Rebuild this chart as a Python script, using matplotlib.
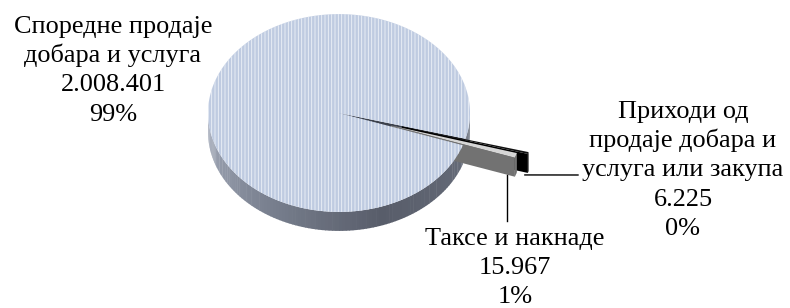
import numpy as np
import matplotlib
matplotlib.use("Agg")
import matplotlib.pyplot as plt
from matplotlib.patches import Polygon
from matplotlib.colors import LinearSegmentedColormap

plt.rcParams['font.family'] = ['Liberation Serif', 'DejaVu Serif']
plt.rcParams['hatch.linewidth'] = 0.6

# -------------------------
# DATA
# -------------------------
nazivi = ["Споредне продаје\nдобара и услуга",
          "Приходи од\nпродаје добара и\nуслуга или закупа",
          "Таксе и накнаде"]
iznosi = [2008401, 6225, 15967]

# -------------------------
# LAYOUT (pixels)
# -------------------------
CX, CY = 339, 113      # centre of the top face
S = 131                # radius in px
KY = 0.755             # tilt (vertical squash)
D = 19                 # thickness in px
GAP_TOP = -15.1        # where the big slice ends (degrees)
explode = [0.0, 0.50, 0.417]

boje_vrh = ["#bfcbe1", "#111111", "#d6d6d6"]
boje_zid = ["#3c414c", "#000000", "#727272"]

fig = plt.figure(figsize=(7.9, 3.08), dpi=100)
ax = fig.add_axes([0, 0, 1, 1])
ax.set_xlim(0, 790)
ax.set_ylim(308, 0)
ax.axis("off")


def proj(px, py, dz=0.0):
    return (CX + S * px, CY - S * KY * py + dz)


def u(t):
    r = np.radians(t)
    return np.cos(r), np.sin(r)


def luk(c, t1, t2, n=200):
    ts = np.linspace(t1, t2, n)
    return [proj(c[0] + np.cos(np.radians(t)), c[1] + np.sin(np.radians(t))) for t in ts]


ukupno = sum(iznosi)
uglovi = [360.0 * v / ukupno for v in iznosi]

# male kriske idu u smjeru kazaljke od procjepa: crna pa siva
granice = []
t_hi = GAP_TOP
for i in [1, 2]:
    granice.append((i, t_hi - uglovi[i], t_hi))
    t_hi -= uglovi[i]
gap_bottom = t_hi
big_lo, big_hi = GAP_TOP, gap_bottom + 360

# -------------------------
# STRANA VELIKE KRISKE (gradijent)
# -------------------------
cmap = LinearSegmentedColormap.from_list(
    "strana", [(0.0, "#a7aebd"), (0.3, "#7b8291"), (0.6, "#585d6a"), (1.0, "#6a707d")])


def strana(c, t1, t2, boja=None, z=1):
    step = 1.5
    for a in np.arange(t1, t2, step):
        b = min(a + step + 0.3, t2)
        gore = luk(c, a, b, 6)
        dole = [(x, y + D) for x, y in gore[::-1]]
        col = boja if boja is not None else cmap((a - 180) / 180)
        ax.add_patch(Polygon(gore + dole, closed=True, facecolor=col,
                             edgecolor="none", zorder=z))


strana((0, 0), 180, big_hi, z=1)
strana((0, 0), big_lo + 360, 360, z=1)

# zid velike kriske koji se vidi kroz procjep
cx_, cy_ = u(GAP_TOP)
zid = [proj(0, 0), proj(cx_, cy_), proj(cx_, cy_, D), proj(0, 0, D)]
ax.add_patch(Polygon(zid, closed=True, facecolor=boje_zid[0], edgecolor="none", zorder=2))

# -------------------------
# MALE KRISKE
# -------------------------
sidra = {}
z = 3
for i, lo, hi in granice:
    mid = (lo + hi) / 2
    c = (explode[i] * u(mid)[0], explode[i] * u(mid)[1])
    ex, ey = u(lo)
    p0 = proj(c[0], c[1])
    p1 = proj(c[0] + ex, c[1] + ey)
    zid = [p0, p1, (p1[0], p1[1] + D), (p0[0], p0[1] + D)]
    ax.add_patch(Polygon(zid, closed=True, facecolor=boje_zid[i], edgecolor="none", zorder=z))
    strana(c, lo, hi, boja=boje_zid[i], z=z)
    vrh = [p0] + luk(c, lo, hi, 10)
    ax.add_patch(Polygon(vrh, closed=True, facecolor=boje_vrh[i], edgecolor="none", zorder=z + 0.5))
    sidra[i] = (c, lo)
    z += 1

# -------------------------
# VRH VELIKE KRISKE
# -------------------------
vrh = [proj(0, 0)] + luk((0, 0), big_lo, big_hi, 400)
ax.add_patch(Polygon(vrh, closed=True, facecolor=boje_vrh[0], edgecolor="#eef2f8",
                     linewidth=0, hatch="|||||", zorder=10))

# -------------------------
# NATPISI
# -------------------------
def fmt(v):
    return f"{v:,}".replace(",", ".")


procenti = [f"{round(100 * v / ukupno)}%" for v in iznosi]
pozicije = [(113, 33), (683, 118), (515, 245)]
RAZMAK = 29.2

for i in range(3):
    linije = nazivi[i].split("\n") + [fmt(iznosi[i]), procenti[i]]
    x, y0 = pozicije[i]
    for k, t in enumerate(linije):
        ax.text(x, y0 + k * RAZMAK, t, ha="center", va="baseline",
                fontsize=18.9, color="black", zorder=20)

# linije do natpisa
c, lo = sidra[1]
ex, ey = u(lo)
a = proj(c[0] + ex, c[1] + ey, D)
ax.plot([a[0] - 3, 578], [a[1] + 2, 175], color="black", lw=1, zorder=15)

c, lo = sidra[2]
ex, ey = u(lo)
a = proj(c[0] + 0.94 * ex, c[1] + 0.94 * ey, D)
ax.plot([a[0], a[0]], [a[1], 221], color="black", lw=1, zorder=15)

fig.savefig("out.png", dpi=100)
